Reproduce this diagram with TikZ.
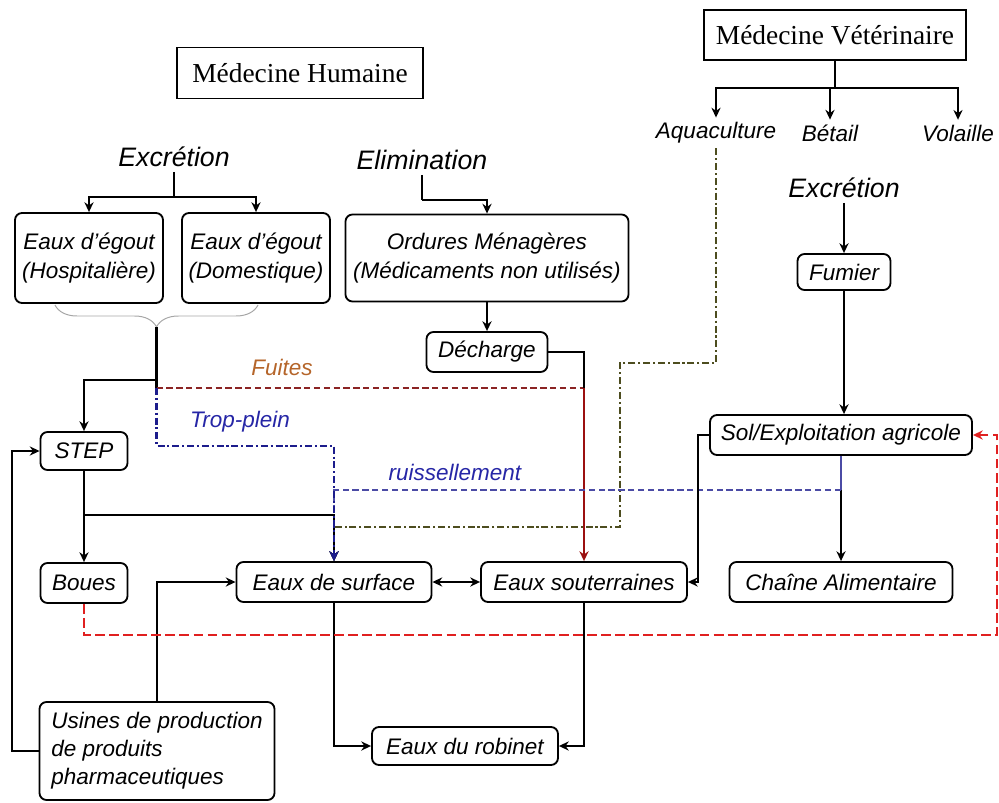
\documentclass[tikz,border=0pt]{standalone}
\usepackage{fontspec}
\setmainfont{Liberation Serif}
\setsansfont{Liberation Sans}
\usetikzlibrary{arrows.meta,decorations.pathreplacing}

\definecolor{fuite}{HTML}{8B2323}
\definecolor{brunfuite}{HTML}{B5652A}
\definecolor{bleutrop}{HTML}{1C1C8C}
\definecolor{bleutexte}{HTML}{2626A6}
\definecolor{bleuruis}{HTML}{4B4BA5}
\definecolor{olive}{HTML}{4D4D1F}
\definecolor{rougevif}{HTML}{E02020}
\definecolor{rougefonce}{HTML}{9B1010}

\tikzset{
  boite/.style={draw, rounded corners=5pt, line width=1.3pt, align=center, inner sep=2pt,
    font=\sffamily\itshape\fontsize{16}{20}\selectfont},
  titre/.style={draw, line width=1pt, font=\fontsize{19.5}{23}\selectfont},
  mot/.style={font=\sffamily\itshape\fontsize{16}{20}\selectfont},
  grand/.style={font=\sffamily\itshape\fontsize{19}{22}\selectfont},
  fil/.style={line width=1.7pt},
  fleche/.style={fil, -{Stealth[length=7pt,width=6.5pt]}},
  pointille/.style={dash pattern=on 4.5pt off 2.5pt},
  mixte/.style={dash pattern=on 5pt off 2pt on 1.5pt off 2pt},
}

\begin{document}
\begin{tikzpicture}
\useasboundingbox (0,0) rectangle (24.975,20.05);

% titres
\node[titre, minimum width=6.15cm, minimum height=1.275cm] (hum) at (7.5,18.225) {Médecine Humaine};
\node[titre, minimum width=6.55cm, minimum height=1.25cm] (vet) at (20.875,19.175) {Médecine Vétérinaire};

\node[mot] (aqua) at (17.9,16.725) {Aquaculture};
\node[mot] (betail) at (20.75,16.725) {Bétail};
\node[mot] (volaille) at (23.95,16.725) {Volaille};

\node[grand] (exc1) at (4.35,16.125) {Excrétion};
\node[grand] (elim) at (10.55,16.05) {Elimination};
\node[grand] (exc2) at (21.1,15.35) {Excrétion};

% boites
\node[boite, minimum width=3.7cm, minimum height=2.25cm] (egout1) at (2.225,13.6) {Eaux d'égout\\(Hospitalière)};
\node[boite, minimum width=3.7cm, minimum height=2.25cm] (egout2) at (6.4,13.6) {Eaux d'égout\\(Domestique)};
\node[boite, minimum width=7.075cm, minimum height=2.175cm] (ordures) at (12.175,13.6) {Ordures Ménagères\\(Médicaments non utilisés)};
\node[boite, minimum width=2.325cm, minimum height=0.9cm] (fumier) at (21.1,13.25) {Fumier};
\node[boite, minimum width=3.025cm, minimum height=1cm] (decharge) at (12.175,11.25) {Décharge};
\node[boite, minimum width=2.175cm, minimum height=0.95cm] (step) at (2.1,8.775) {STEP};
\node[boite, minimum width=6.55cm, minimum height=1cm] (sol) at (21.025,9.175) {Sol/Exploitation agricole};
\node[boite, minimum width=2.175cm, minimum height=1cm] (boues) at (2.1,5.475) {Boues};
\node[boite, minimum width=4.875cm, minimum height=1cm] (surface) at (8.35,5.5) {Eaux de surface};
\node[boite, minimum width=5.15cm, minimum height=1cm] (sout) at (14.6,5.5) {Eaux souterraines};
\node[boite, minimum width=5.575cm, minimum height=1cm] (chaine) at (21.025,5.5) {Chaîne Alimentaire};
\node[boite, minimum width=4.65cm, minimum height=0.95cm] (robinet) at (11.625,1.4) {Eaux du robinet};
\node[boite, align=left, minimum width=5.875cm, minimum height=2.45cm] (usines) at (3.925,1.275) {Usines de production\\de produits\\pharmaceutiques};

% etiquettes
\node[mot, text=brunfuite] (fuites) at (7.05,10.875) {Fuites};
\node[mot, text=bleutexte] (trop) at (6.0,9.5) {Trop-plein};
\node[mot, text=bleutexte] (ruis) at (11.375,8.25) {ruissellement};

% veterinaire
\coordinate (vj) at (20.875,17.85);
\draw[fil] (vet.south) -- (vj);
\draw[fleche] (vj) -| (aqua.north);
\draw[fleche] (vj) -| (betail.north);
\draw[fleche] (vj) -| (volaille.north);
\draw[fleche] (exc2.south) -- (fumier.north);
\draw[fleche] (fumier.south) -- (fumier.south |- sol.north);

% humaine
\coordinate (ej) at (4.35,15.125);
\draw[fil] (exc1.south) -- (ej);
\draw[fleche] (ej) -| (egout1.north);
\draw[fleche] (ej) -| (egout2.north);
\draw[gray!70, line width=0.7pt, decorate, decoration={brace, mirror, amplitude=0.55cm}] (1.375,12.425) -- (6.45,12.425);

\coordinate (bt) at (3.9125,11.875);
\coordinate (sj) at (3.9125,10.55);
\coordinate (fj) at (3.9125,10.35);
\coordinate (dj) at (14.6,10.35);
\draw[fil] (bt) -- (fj);
\draw[fleche] (sj) -| (step.north);

\coordinate (oj) at (10.55,15.05);
\draw[fil] (elim.south) -- (oj);
\draw[fleche] (oj) -| (ordures.north);
\draw[fleche] (ordures.south) -- (decharge.north);

% fuites
\draw[fil, fuite, pointille] (fj) -- (dj);
\draw[fil] (decharge.east) -| (dj);
\draw[fleche, rougefonce] (dj) -- (sout.north);

% vers les eaux de surface
\draw[fleche, olive, mixte] (aqua.south) -- (17.9,10.975) -- (15.5,10.975) -- (15.5,6.875) -| (surface.north);
\draw[fleche] (sol.south) -- (chaine.north);
\coordinate (rj) at (21.025,7.8);
\draw[fil, bleuruis] (sol.south) -- (rj);
\draw[fleche, bleuruis, pointille] (rj) -| (surface.north);
\draw[fleche] (step.south) -- (boues.north);
\coordinate (bj) at (2.1,7.175);
\draw[fleche] (bj) -| (surface.north);
\draw[fleche, bleutrop, mixte] (fj) -- (3.9125,8.9) -| (surface.north);

\draw[fleche] (sol.west) -- (17.45,9.175) |- (sout.east);
\draw[fil, {Stealth[length=7pt,width=6.5pt]}-{Stealth[length=7pt,width=6.5pt]}] (surface.east) -- (sout.west);

% robinet et usines
\draw[fleche] (surface.south) |- (robinet.west);
\draw[fleche] (sout.south) |- (robinet.east);
\draw[fleche] (usines.north) |- (surface.west);
\draw[fleche] (usines.west) -- (0.3,1.275) |- (step.west);

% boues
\draw[fleche, rougevif, line width=2pt, dash pattern=on 7pt off 3pt] (boues.south) -- (2.1,4.175) -- (24.925,4.175) |- (sol.east);
\end{tikzpicture}
\end{document}
